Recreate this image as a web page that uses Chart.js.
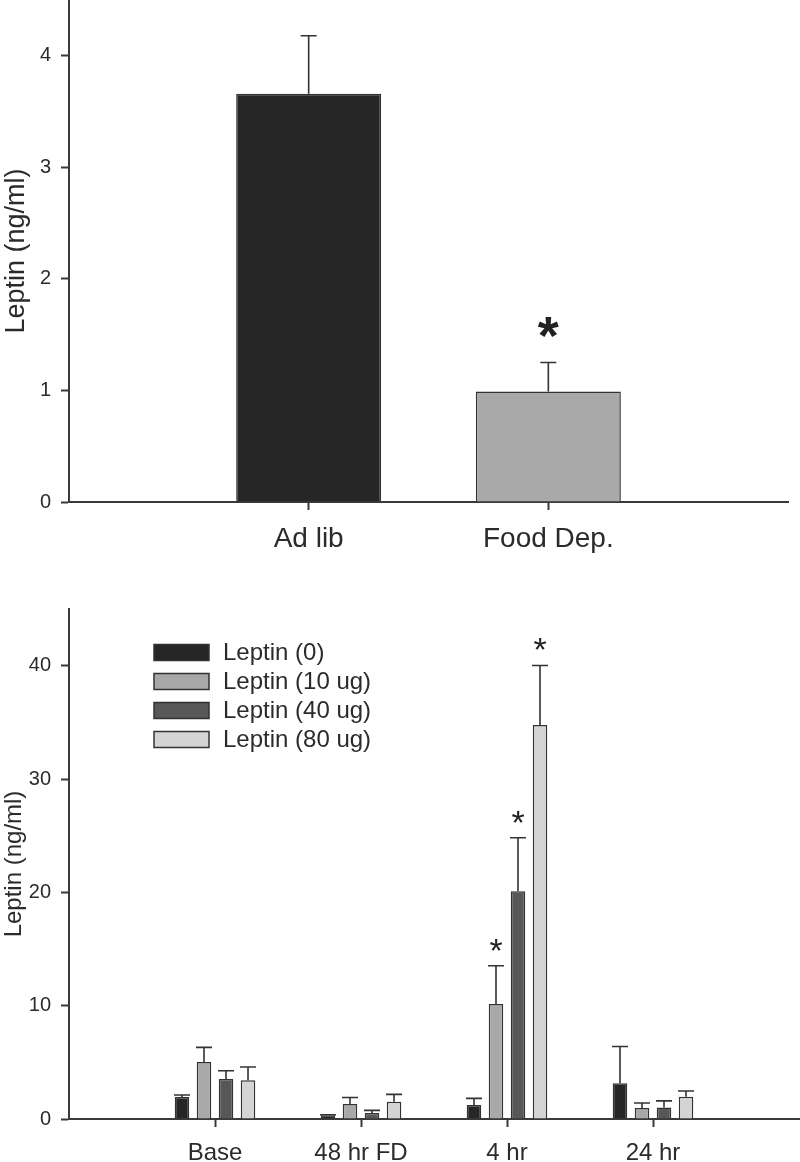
<!DOCTYPE html>
<html>
<head>
<meta charset="utf-8">
<script src="https://cdn.jsdelivr.net/npm/chart.js@4.4.0/dist/chart.umd.min.js"></script>
<style>
  body { margin: 0; background: #fff; }
  #wrap { position: relative; width: 800px; height: 1162px; overflow: hidden; }
  #topChart { position: absolute; left: 0; top: 0; }
  #bottomChart { position: absolute; left: 0; top: 580px; }
</style>
</head>
<body>
<div id="wrap">
  <canvas id="topChart" width="800" height="570"></canvas>
  <canvas id="bottomChart" width="800" height="582"></canvas>
</div>
<script>
// top panel data
const topGroups = ['Ad lib', 'Food Dep.'];
const topMeans = [3.66, 0.99];
const topErrors = [0.52, 0.26];
const topStars = [false, true];
const topColors = ['#262626', '#a9a9a9'];
const topTicks = [0, 1, 2, 3, 4];

// bottom panel data
const timePoints = ['Base', '48 hr FD', '4 hr', '24 hr'];
const doseLabels = ['Leptin (0)', 'Leptin (10 ug)', 'Leptin (40 ug)', 'Leptin (80 ug)'];
const dose0 = [1.94, 0.32, 1.24, 3.15];
const dose10 = [5.03, 1.32, 10.14, 0.96];
const dose40 = [3.53, 0.53, 20.09, 1.02];
const dose80 = [3.41, 1.53, 34.77, 1.96];
const dose0Err = [0.18, 0.05, 0.58, 3.25];
const dose10Err = [1.29, 0.58, 3.38, 0.45];
const dose40Err = [0.73, 0.23, 4.73, 0.58];
const dose80Err = [1.18, 0.64, 5.25, 0.51];
const dose0Stars = [false, false, false, false];
const dose10Stars = [false, false, true, false];
const dose40Stars = [false, false, true, false];
const dose80Stars = [false, false, true, false];
const doseColors = ['#262626', '#a8a8a8', '#575757', '#d4d4d4'];
const bottomTicks = [0, 10, 20, 30, 40];

const FONT = '"Liberation Sans", Arial, Helvetica, sans-serif';
const axisColor = '#3a3a3a';
const textColor = '#2b2b2b';
Chart.defaults.font.family = FONT;
Chart.defaults.color = textColor;

// empty slots at both ends so the groups sit where the original puts them
const pad = arr => [null, ...arr, null];
const padLabels = arr => ['', ...arr, ''];

// error bars + significance stars
const errorBars = {
  id: 'errorBars',
  afterDatasetsDraw(chart, args, opts) {
    const ctx = chart.ctx;
    const y = chart.scales.y;
    ctx.save();
    chart.data.datasets.forEach((ds, i) => {
      const meta = chart.getDatasetMeta(i);
      meta.data.forEach((bar, j) => {
        const v = ds.data[j];
        if (v == null) return;
        const top = y.getPixelForValue(v + ds.errors[j]);
        ctx.strokeStyle = '#333';
        ctx.lineWidth = 1.6;
        ctx.beginPath();
        ctx.moveTo(bar.x, bar.y);
        ctx.lineTo(bar.x, top);
        ctx.moveTo(bar.x - opts.cap / 2, top);
        ctx.lineTo(bar.x + opts.cap / 2, top);
        ctx.stroke();
        if (ds.stars[j]) {
          ctx.fillStyle = '#222';
          ctx.font = opts.starFont;
          ctx.textAlign = 'center';
          ctx.textBaseline = 'alphabetic';
          ctx.fillText('*', bar.x, top - opts.starLift);
        }
      });
    });
    ctx.restore();
  }
};

// legend drawn inside the plot like the original
const boxLegend = {
  id: 'boxLegend',
  afterDraw(chart, args, opts) {
    if (!opts.show) return;
    const ctx = chart.ctx;
    ctx.save();
    ctx.font = opts.font;
    ctx.textBaseline = 'middle';
    ctx.textAlign = 'left';
    chart.data.datasets.forEach((ds, i) => {
      const cy = opts.y + i * opts.rowGap;
      ctx.fillStyle = ds.backgroundColor;
      ctx.fillRect(opts.x, cy - opts.boxH / 2, opts.boxW, opts.boxH);
      ctx.strokeStyle = '#333';
      ctx.lineWidth = 1.5;
      ctx.strokeRect(opts.x, cy - opts.boxH / 2, opts.boxW, opts.boxH);
      ctx.fillStyle = textColor;
      ctx.fillText(ds.label, opts.x + opts.boxW + 14, cy + 1);
    });
    ctx.restore();
  }
};

function xAxis(fontSize, height) {
  return {
    offset: false,
    afterFit: s => { s.height = height; s.paddingLeft = 0; s.paddingRight = 0; },
    border: { color: axisColor, width: 2 },
    grid: {
      offset: false,
      drawOnChartArea: false,
      tickLength: 8,
      tickWidth: 2,
      tickColor: c => (c.tick && c.tick.label) ? axisColor : 'rgba(0,0,0,0)'
    },
    ticks: { padding: 12, color: textColor, font: { size: fontSize }, maxRotation: 0, autoSkip: false }
  };
}

function yAxis(max, ticks, titleSize) {
  return {
    min: 0,
    max: max,
    afterBuildTicks: s => { s.ticks = ticks.map(v => ({ value: v })); },
    afterFit: s => { s.width = 69; s.paddingTop = 0; s.paddingBottom = 0; },
    border: { color: axisColor, width: 2 },
    grid: { drawOnChartArea: false, tickLength: 8, tickWidth: 2, tickColor: axisColor },
    ticks: { padding: 10, color: textColor, font: { size: 20 } },
    title: {
      display: true,
      text: 'Leptin (ng/ml)',
      color: textColor,
      font: { size: titleSize },
      padding: { top: 0, bottom: 0 }
    }
  };
}

new Chart(document.getElementById('topChart'), {
  type: 'bar',
  data: {
    labels: padLabels(topGroups),
    datasets: [{
      label: 'Leptin',
      data: pad(topMeans),
      errors: pad(topErrors),
      stars: pad(topStars),
      backgroundColor: pad(topColors),
      borderColor: '#333',
      borderWidth: 1.5,
      categoryPercentage: 1,
      barPercentage: 0.605
    }]
  },
  options: {
    responsive: false,
    animation: false,
    layout: { padding: { top: 0, right: 12, left: 0, bottom: 0 } },
    plugins: {
      legend: { display: false },
      tooltip: { enabled: false },
      errorBars: { cap: 16, starFont: 'bold 54px ' + FONT, starLift: 9 },
      boxLegend: { show: false }
    },
    scales: {
      x: xAxis(28, 68),
      y: yAxis(4.5, topTicks, 27)
    }
  },
  plugins: [errorBars, boxLegend]
});

const doseSeries = [
  [dose0, dose0Err, dose0Stars],
  [dose10, dose10Err, dose10Stars],
  [dose40, dose40Err, dose40Stars],
  [dose80, dose80Err, dose80Stars]
];

new Chart(document.getElementById('bottomChart'), {
  type: 'bar',
  data: {
    labels: padLabels(timePoints),
    datasets: doseSeries.map((s, i) => ({
      label: doseLabels[i],
      data: pad(s[0]),
      errors: pad(s[1]),
      stars: pad(s[2]),
      backgroundColor: doseColors[i],
      borderColor: '#333',
      borderWidth: 1.5,
      categoryPercentage: 0.603,
      barPercentage: 0.66
    }))
  },
  options: {
    responsive: false,
    animation: false,
    layout: { padding: { top: 29, right: 1, left: 0, bottom: 0 } },
    plugins: {
      legend: { display: false },
      tooltip: { enabled: false },
      errorBars: { cap: 16, starFont: '34px ' + FONT, starLift: 4 },
      boxLegend: { show: true, x: 154, y: 72.5, rowGap: 29, boxW: 55, boxH: 16, font: '24px ' + FONT }
    },
    scales: {
      x: xAxis(24, 43),
      y: yAxis(45, bottomTicks, 24)
    }
  },
  plugins: [errorBars, boxLegend]
});
</script>
</body>
</html>
